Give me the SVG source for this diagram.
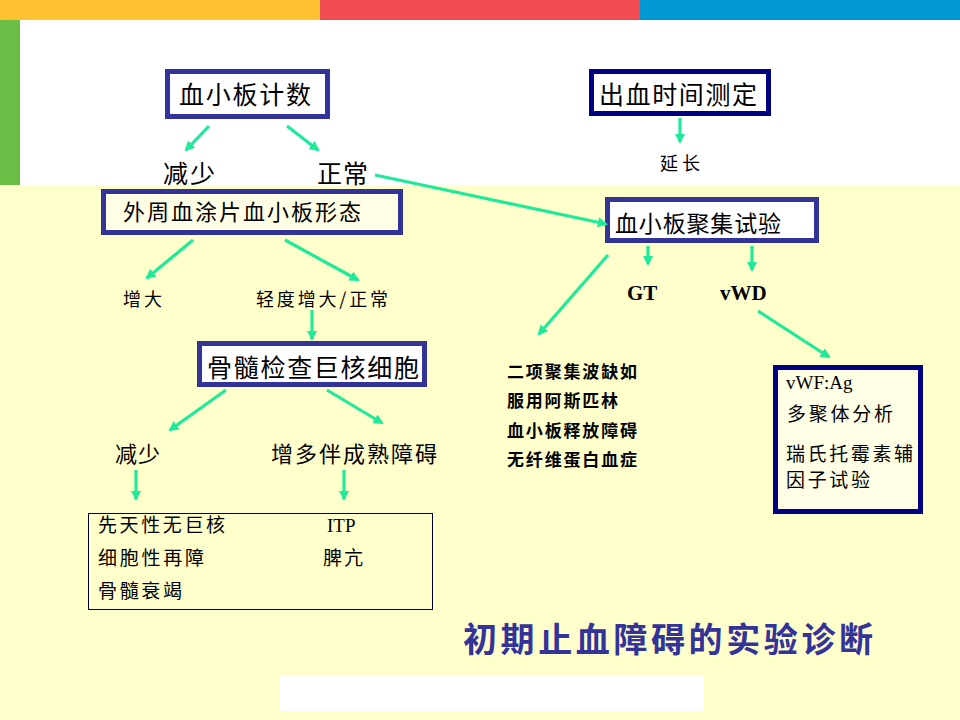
<svg xmlns="http://www.w3.org/2000/svg" width="960" height="720" viewBox="0 0 960 720">
<defs>
<marker id="ah" viewBox="0 0 10 10" refX="8" refY="5" markerWidth="3.2" markerHeight="3.2" orient="auto" markerUnits="strokeWidth">
<path d="M0,0 L10,5 L0,10 z" fill="#1EEA9A"/>
</marker>
<style>
.cn{font-family:"Noto Sans CJK SC","Liberation Sans",sans-serif;fill:#000}
.sf{font-family:"Liberation Serif","Noto Sans CJK SC",serif;fill:#000}
.ar{stroke:#1EEA9A;stroke-width:3.2;fill:none;marker-end:url(#ah)}
.bx{stroke:#333399;stroke-width:5}
.bx2{stroke:#000080;stroke-width:5}
</style>
</defs>
<rect x="0" y="0" width="960" height="720" fill="#FFFFCC"/>
<rect x="0" y="20" width="960" height="165" fill="#FFFFFF"/>
<rect x="0" y="0" width="320" height="20" fill="#FFC130"/>
<rect x="320" y="0" width="320" height="20" fill="#F04C52"/>
<rect x="640" y="0" width="320" height="20" fill="#0099D6"/>
<rect x="0" y="20" width="20" height="165" fill="#6ABD45"/>
<rect x="280" y="675" width="424" height="36" fill="#FFFFFF"/>

<g id="n-plt">
<rect class="bx" x="167.5" y="71.5" width="160" height="45" fill="#FFFFFF"/>
<text class="cn" x="179" y="104" font-size="25" textLength="132" lengthAdjust="spacing">血小板计数</text>
</g>
<g id="n-bt">
<rect class="bx2" x="591.5" y="71.5" width="177" height="42" fill="#FFFFFF"/>
<text class="cn" x="599" y="104" font-size="25" textLength="158" lengthAdjust="spacing">出血时间测定</text>
</g>
<g id="t-dec1"><text class="cn" x="163" y="183" font-size="25" textLength="52" lengthAdjust="spacing">减少</text></g>
<g id="t-norm1"><text class="cn" x="317" y="183" font-size="25" textLength="51" lengthAdjust="spacing">正常</text></g>
<g id="t-prolong"><text class="sf" x="660" y="170" font-size="18" textLength="40" lengthAdjust="spacing">延长</text></g>
<g id="n-smear">
<rect class="bx" x="103.5" y="191.5" width="297" height="41" fill="#FFFFE6"/>
<text class="cn" x="123" y="220" font-size="22" textLength="238" lengthAdjust="spacing">外周血涂片血小板形态</text>
</g>
<g id="n-agg">
<rect class="bx" x="607.5" y="199.5" width="209" height="41" fill="#FFFFFF"/>
<text class="cn" x="615" y="232" font-size="23" textLength="166" lengthAdjust="spacing">血小板聚集试验</text>
</g>
<g id="t-big"><text class="cn" x="123" y="306" font-size="18" textLength="39" lengthAdjust="spacing">增大</text></g>
<g id="t-mild"><text class="cn" x="256" y="306" font-size="18" textLength="132" lengthAdjust="spacing">轻度增大/正常</text></g>
<g id="t-gt"><text class="sf" x="627" y="300" font-size="21" font-weight="bold">GT</text></g>
<g id="t-vwd"><text class="sf" x="720" y="300" font-size="21" font-weight="bold">vWD</text></g>
<g id="n-bm">
<rect class="bx" x="199.5" y="343.5" width="225" height="41" fill="#FFFFFF"/>
<text class="cn" x="207" y="377" font-size="25" textLength="212" lengthAdjust="spacing">骨髓检查巨核细胞</text>
</g>
<g id="t-list-mid">
<text class="sf" x="507" y="378" font-size="17" font-weight="bold" textLength="130" lengthAdjust="spacing">二项聚集波缺如</text>
<text class="sf" x="507" y="407" font-size="17" font-weight="bold" textLength="111" lengthAdjust="spacing">服用阿斯匹林</text>
<text class="sf" x="507" y="437" font-size="17" font-weight="bold" textLength="130" lengthAdjust="spacing">血小板释放障碍</text>
<text class="sf" x="507" y="466" font-size="17" font-weight="bold" textLength="130" lengthAdjust="spacing">无纤维蛋白血症</text>
</g>
<g id="n-vwf">
<rect class="bx2" x="775.5" y="367.5" width="145" height="144" fill="#FFFFE6"/>
<text class="sf" x="786" y="389" font-size="19">vWF:Ag</text>
<text class="cn" x="787" y="421" font-size="19" textLength="106" lengthAdjust="spacing">多聚体分析</text>
<text class="cn" x="786" y="461" font-size="19" textLength="127" lengthAdjust="spacing">瑞氏托霉素辅</text>
<text class="cn" x="786" y="487" font-size="19" textLength="84" lengthAdjust="spacing">因子试验</text>
</g>
<g id="t-dec2"><text class="cn" x="115" y="462" font-size="22" textLength="45" lengthAdjust="spacing">减少</text></g>
<g id="t-inc"><text class="cn" x="271" y="462" font-size="22" textLength="166" lengthAdjust="spacing">增多伴成熟障碍</text></g>
<g id="n-causes">
<rect x="88.5" y="513.5" width="344" height="96" fill="none" stroke="#000033" stroke-width="1"/>
<text class="cn" x="98" y="532" font-size="19" textLength="127" lengthAdjust="spacing">先天性无巨核</text>
<text class="cn" x="98" y="565" font-size="19" textLength="106" lengthAdjust="spacing">细胞性再障</text>
<text class="cn" x="98" y="598" font-size="19" textLength="84" lengthAdjust="spacing">骨髓衰竭</text>
<text class="sf" x="327" y="532" font-size="19">ITP</text>
<text class="cn" x="323" y="565" font-size="19" textLength="40" lengthAdjust="spacing">脾亢</text>
</g>
<g id="title">
<text x="463" y="652" font-size="34" font-weight="bold" fill="#333399" font-family="Noto Sans CJK SC, Liberation Sans, sans-serif" textLength="410" lengthAdjust="spacing">初期止血障碍的实验诊断</text>
</g>

<g id="connectors">
<line class="ar" x1="209" y1="126" x2="186" y2="150"/>
<line class="ar" x1="287" y1="126" x2="318" y2="150"/>
<line class="ar" x1="375" y1="175" x2="606" y2="224"/>
<line class="ar" x1="680" y1="118" x2="680" y2="142"/>
<line class="ar" x1="193" y1="240" x2="147" y2="278"/>
<line class="ar" x1="285" y1="240" x2="358" y2="280"/>
<line class="ar" x1="648" y1="246" x2="648" y2="264"/>
<line class="ar" x1="752" y1="246" x2="752" y2="270"/>
<line class="ar" x1="608" y1="255" x2="539" y2="334"/>
<line class="ar" x1="758" y1="311" x2="829" y2="357"/>
<line class="ar" x1="312" y1="310" x2="312" y2="339"/>
<line class="ar" x1="226" y1="390" x2="170" y2="430"/>
<line class="ar" x1="327" y1="390" x2="382" y2="423"/>
<line class="ar" x1="136" y1="470" x2="136" y2="499"/>
<line class="ar" x1="344" y1="470" x2="344" y2="499"/>
</g>
</svg>
